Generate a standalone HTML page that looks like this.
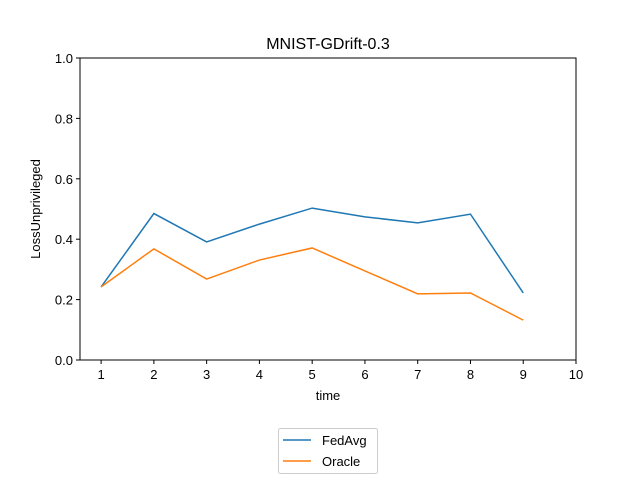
<!DOCTYPE html>
<html><head><meta charset="utf-8"><style>
body{margin:0;background:#fff;}
svg{display:block;font-family:"Liberation Sans","DejaVu Sans",sans-serif;}
</style></head><body>
<svg id="chart" width="640" height="480">
<rect width="640" height="480" fill="#fff"/>
<text x="328" y="49" text-anchor="middle" font-size="16">MNIST-GDrift-0.3</text>
<g id="axes"></g>
<text x="328" y="400" text-anchor="middle" font-size="13">time</text>
<text transform="translate(40,209) rotate(-90)" text-anchor="middle" font-size="13">LossUnprivileged</text>
<g>
<rect x="278.5" y="428.5" width="99" height="45" rx="2" fill="#fff" stroke="#ccc"/>
<line x1="283" y1="440" x2="311" y2="440" stroke="#1f77b4" stroke-width="1.5"/>
<text x="322" y="445" font-size="13">FedAvg</text>
<line x1="283" y1="461" x2="311" y2="461" stroke="#ff7f0e" stroke-width="1.5"/>
<text x="322" y="466" font-size="13">Oracle</text>
</g>
</svg>
<script>
const times=[1,2,3,4,5,6,7,8,9];
const fedavg=[0.242,0.485,0.391,0.450,0.503,0.474,0.454,0.483,0.222];
const oracle=[0.242,0.368,0.268,0.331,0.371,0.295,0.219,0.222,0.132];
const xTicks=[1,2,3,4,5,6,7,8,9,10];
const yTicks=[0.0,0.2,0.4,0.6,0.8,1.0];
const L=80,R=576,T=58,B=360,xmin=0.6,xmax=10;
const sx=v=>L+(v-xmin)/(xmax-xmin)*(R-L);
const sy=v=>B-v*(B-T);
const ns='http://www.w3.org/2000/svg';
const g=document.getElementById('axes');
function mk(t,a,p){const e=document.createElementNS(ns,t);for(const k in a)e.setAttribute(k,a[k]);(p||g).appendChild(e);return e;}
xTicks.forEach(v=>{
 const l=mk('line',{x1:sx(v),x2:sx(v),y1:B,y2:B+4,stroke:'#000'});
 
 
 const t=mk('text',{x:sx(v),y:B+19,'text-anchor':'middle','font-size':13});t.textContent=v;
 
 
});
yTicks.forEach(v=>{
 const l=mk('line',{x1:L-4,x2:L,y1:sy(v),y2:sy(v),stroke:'#000'});
 
 
 const t=mk('text',{x:L-7,y:sy(v)+5,'text-anchor':'end','font-size':13});t.textContent=v.toFixed(1);
 
 
});
function line(vals,color,name){
 const p=mk('polyline',{points:vals.map((v,i)=>sx(times[i])+','+sy(v)).join(' '),fill:'none',stroke:color,'stroke-width':1.5});
 
 
}
line(fedavg,'#1f77b4','fedavg-line');
line(oracle,'#ff7f0e','oracle-line');
const f=mk('rect',{x:L,y:T,width:R-L,height:B-T,fill:'none',stroke:'#000','stroke-width':1});


</script>
</body></html>
